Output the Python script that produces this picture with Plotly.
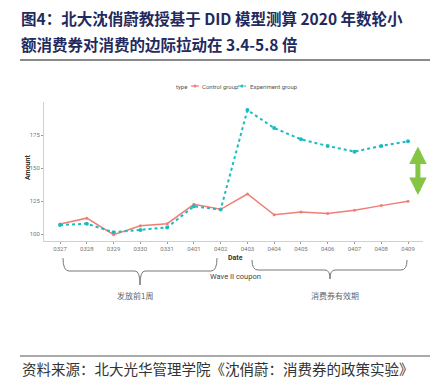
import plotly.graph_objects as go

# ---- data ----
dates = ['0327', '0328', '0329', '0330', '0331', '0401', '0402',
         '0403', '0404', '0405', '0406', '0407', '0408', '0409']
control = [107.6, 112.0, 99.5, 106.3, 107.8, 122.5, 118.7,
           130.3, 114.6, 116.7, 115.6, 118.0, 121.5, 124.8]
experiment = [106.8, 107.8, 101.3, 103.0, 105.0, 121.0, 118.5,
              193.9, 180.3, 171.7, 166.7, 162.4, 166.7, 170.2]
y_ticks = [100, 125, 150, 175]
coupon_date = '0403'
gap_low, gap_high = 129.5, 167.4

# page has an 8px body margin: plot area on page is x 44..423, y 102..241
W, H = 447, 389
OFF = 8
PL, PR, PT, PB = 44, 423, 102, 241
L, T = PL - OFF, PT - OFF
R, B = W - (PR - OFF), H - (PB - OFF)
PW, PH = PR - PL, PB - PT


def px(x):
    return (x - PL) / PW


def py(y):
    return (PB - y) / PH


RED = '#ef7f76'
TEAL = '#19bcc0'
TXT = '#666666'
NAVY = '#1f2a5e'
CJK = 'Noto Sans CJK SC'

fig = go.Figure()
fig.add_trace(go.Scatter(
    x=dates, y=control, mode='lines+markers', name='Control group',
    line=dict(color=RED, width=1.5), marker=dict(size=3, color=RED)))
fig.add_trace(go.Scatter(
    x=dates, y=experiment, mode='lines+markers', name='Experiment group',
    line=dict(color=TEAL, width=2, dash='dot'), marker=dict(size=4, color=TEAL)))

shapes = []
shapes.append(dict(type='line', xref='x', yref='paper', x0=coupon_date, x1=coupon_date,
                   y0=py(246), y1=py(97), line=dict(color='#c4c4c4', width=5), layer='below'))
shapes.append(dict(type='line', xref='paper', yref='paper', x0=px(20), x1=px(430),
                   y0=py(60), y1=py(60), line=dict(color='#8a8a8a', width=2)))
shapes.append(dict(type='line', xref='paper', yref='paper', x0=px(20), x1=px(430),
                   y0=py(356), y1=py(356), line=dict(color='#555555', width=1)))


def brace(x0, x1, xc, ytop, ymid, ybot):
    pts = (f"M {px(x0)},{py(ytop)} Q {px(x0)},{py(ymid)} {px(x0+6)},{py(ymid)} "
           f"L {px(xc-5)},{py(ymid)} Q {px(xc)},{py(ymid)} {px(xc)},{py(ybot)} "
           f"Q {px(xc)},{py(ymid)} {px(xc+5)},{py(ymid)} "
           f"L {px(x1-6)},{py(ymid)} Q {px(x1)},{py(ymid)} {px(x1)},{py(ytop)}")
    return dict(type='path', xref='paper', yref='paper', path=pts,
                line=dict(color='#777777', width=1))


shapes.append(brace(63, 217, 140, 258, 271, 285))
shapes.append(brace(252, 407, 330, 260, 270, 279))

for xs, col, dash in [(191, RED, 'solid'), (238, TEAL, 'dot')]:
    shapes.append(dict(type='line', xref='paper', yref='paper', x0=px(xs), x1=px(xs + 8),
                       y0=py(86), y1=py(86), line=dict(color=col, width=1.2, dash=dash)))
    shapes.append(dict(type='circle', xref='paper', yref='paper', x0=px(xs + 2.5), x1=px(xs + 5.5),
                       y0=py(87.5), y1=py(84.5), fillcolor=col, line=dict(width=0)))

ann = []


def text(x, y, s, size, color=TXT, anchor='left', family='Roboto', **kw):
    ann.append(dict(xref='paper', yref='paper', x=px(x), y=py(y), text=s, showarrow=False,
                    xanchor=anchor, yanchor='middle', borderpad=0,
                    font=dict(size=size, color=color, family=family), **kw))


text(20, 18, '<b>图4：北大沈俏蔚教授基于 DID 模型测算 2020 年数轮小</b>', 15.5, NAVY, family=CJK)
text(20, 44, '<b>额消费券对消费的边际拉动在 3.4-5.8 倍</b>', 15.5, NAVY, family=CJK)
text(21, 368, '资料来源：北大光华管理学院《沈俏蔚：消费券的政策实验》', 14.5, '#333333', family=CJK)

text(175, 86, 'type', 6, '#555555')
text(201, 86, 'Control group', 6, '#555555')
text(249, 86, 'Experiment group', 6, '#555555')

text(235, 258, '<b>Date</b>', 7, '#333333', anchor='center')
text(28, 168, '<b>Amount</b>', 7, '#333333', anchor='center', textangle=-90)
text(235, 276, 'Wave II coupon', 7.5, '#444444', anchor='center')
text(135, 295, '发放前1周', 8, '#666666', anchor='center', family=CJK)
text(335, 295, '消费券有效期', 8, '#666666', anchor='center', family=CJK)

ann.append(dict(xref='x', yref='y', axref='x', ayref='y', x=13.37, y=gap_low,
                ax=13.37, ay=gap_high, text='', showarrow=True, arrowside='end+start',
                arrowhead=2, arrowsize=0.7, arrowwidth=5, arrowcolor='#86c443', standoff=0,
                startstandoff=0))

fig.update_layout(
    width=W, height=H, margin=dict(l=L, r=R, t=T, b=B),
    paper_bgcolor='white', plot_bgcolor='white', showlegend=False,
    shapes=shapes, annotations=ann,
    xaxis=dict(type='category', range=[-0.6, 13.56], showgrid=False, zeroline=False,
               showline=True, linecolor='#d0d0d0', linewidth=1, ticks='outside', ticklen=2,
               tickcolor='#999999', tickfont=dict(size=6, color='#777777', family='Roboto')),
    yaxis=dict(range=[94.7, 200], tickvals=y_ticks, showgrid=False, zeroline=False,
               showline=True, linecolor='#d0d0d0', linewidth=1, ticks='outside', ticklen=2,
               tickcolor='#999999', tickfont=dict(size=6, color='#777777', family='Roboto')),
)

fig.write_html('out.html')
